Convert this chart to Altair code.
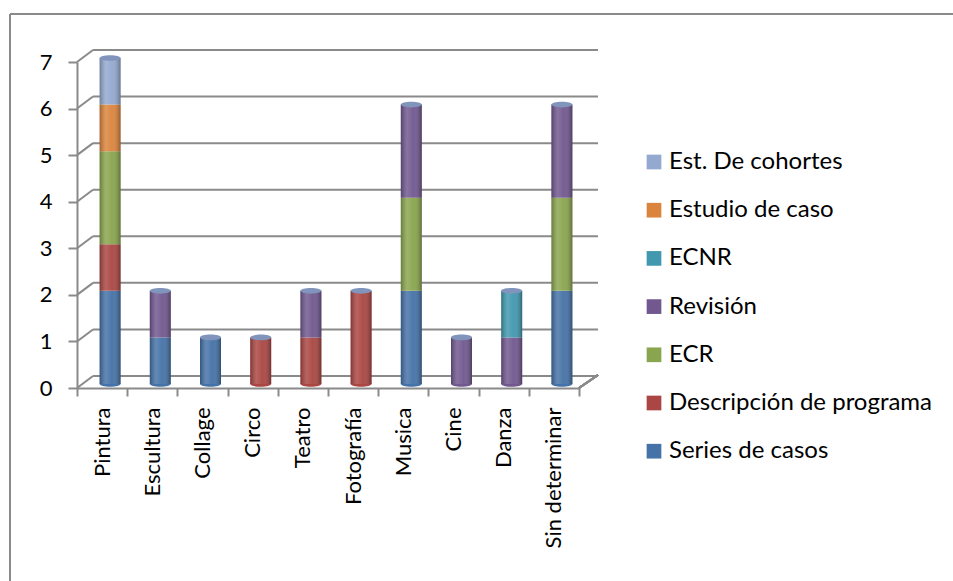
import altair as alt
import pandas as pd

# Categorías y número de estudios por tipo de diseño
categorias = ["Pintura", "Escultura", "Collage", "Circo", "Teatro",
              "Fotografía", "Musica", "Cine", "Danza", "Sin determinar"]

series_de_casos = [2, 1, 1, 0, 0, 0, 2, 0, 0, 2]
descripcion_programa = [1, 0, 0, 1, 1, 2, 0, 0, 0, 0]
ecr = [2, 0, 0, 0, 0, 0, 2, 0, 0, 2]
revision = [0, 1, 0, 0, 1, 0, 2, 1, 1, 2]
ecnr = [0, 0, 0, 0, 0, 0, 0, 0, 1, 0]
estudio_de_caso = [1, 0, 0, 0, 0, 0, 0, 0, 0, 0]
est_cohortes = [1, 0, 0, 0, 0, 0, 0, 0, 0, 0]

# Orden de apilado (de abajo hacia arriba)
series = [
    ("Series de casos", series_de_casos, "#4572A7"),
    ("Descripción de programa", descripcion_programa, "#AA4643"),
    ("ECR", ecr, "#89A54E"),
    ("Revisión", revision, "#71588F"),
    ("ECNR", ecnr, "#4198AF"),
    ("Estudio de caso", estudio_de_caso, "#DB843D"),
    ("Est. De cohortes", est_cohortes, "#93A9CF"),
]

filas = []
for orden, (nombre, valores, _) in enumerate(series):
    for cat, v in zip(categorias, valores):
        if v > 0:
            filas.append({"categoria": cat, "serie": nombre, "valor": v, "orden": orden})
df = pd.DataFrame(filas)

totales = []
for i, cat in enumerate(categorias):
    total = sum(vals[i] for _, vals, _ in series)
    base = next(n for n, vals, _ in series if vals[i] > 0)
    totales.append({"categoria": cat, "total": total, "cero": 0, "serie": base})
df_tot = pd.DataFrame(totales)

df_grid = pd.DataFrame({"v": list(range(0, 8))})

# Leyenda: de arriba hacia abajo, orden inverso al apilado
dominio = [n for n, _, _ in series][::-1]
colores = [c for _, _, c in series][::-1]

W, H = 502, 326
DX, DY = 16, -12          # profundidad del fondo
BX, BY = 8, -4            # desplazamiento de los cilindros
GRIS = "#8A8A8A"
FUENTE = "Lato"

x_enc = alt.X("categoria:N", sort=categorias,
              scale=alt.Scale(paddingInner=0, paddingOuter=0),
              axis=alt.Axis(title=None, tickBand="extent", labelAngle=270,
                            labelAlign="right", labelBaseline="middle",
                            tickSize=8, labelPadding=11))
y_scale = alt.Scale(domain=[0, 7], nice=False)

ellipse = "M -1 0 A 1 0.27 0 1 1 1 0 A 1 0.27 0 1 1 -1 0 Z"

leyenda = alt.Legend(title=None, orient="none", legendX=565, legendY=88,
                     symbolType="square", symbolSize=216,
                     symbolStrokeWidth=0, rowPadding=24.2,
                     labelFontSize=24, labelFont=FUENTE,
                     labelColor="#000000", labelOffset=3,
                     padding=0, labelLimit=400)
color_scale = alt.Scale(domain=dominio, range=colores)

# Pared del fondo: líneas de cuadrícula desplazadas
grid = alt.Chart(df_grid).mark_rule(color=GRIS, strokeWidth=2, yOffset=DY).encode(
    y=alt.Y("v:Q", scale=y_scale,
            axis=alt.Axis(title=None, values=list(range(8)), tickSize=9,
                          labelPadding=16, grid=False)),
    x=alt.value(DX), x2=alt.value(W + 19),
)
diag = alt.Chart(df_grid).mark_rule(color=GRIS, strokeWidth=2, y2Offset=DY).encode(
    y=alt.Y("v:Q", scale=y_scale), y2="v:Q",
    x=alt.value(0), x2=alt.value(DX),
)
suelo_der = alt.Chart(df_grid).mark_rule(color=GRIS, strokeWidth=2).encode(
    x=alt.value(W), x2=alt.value(W + 19), y=alt.value(H), y2=alt.value(H - 13),
)

base_cil = alt.Chart(df_tot).mark_point(
    shape=ellipse, size=441, filled=True, opacity=1, strokeWidth=0,
    xOffset=BX, yOffset=BY,
).encode(
    x=x_enc, y=alt.Y("cero:Q", scale=y_scale),
    color=alt.Color("serie:N", scale=color_scale, legend=leyenda),
)

barras = alt.Chart(df).mark_bar(size=21, xOffset=BX, yOffset=BY, y2Offset=BY).encode(
    x=x_enc,
    y=alt.Y("valor:Q", stack="zero", scale=y_scale),
    color=alt.Color("serie:N", scale=color_scale, legend=leyenda),
    order=alt.Order("orden:Q", sort="ascending"),
)

sombra = alt.Chart(df_tot).mark_bar(
    size=21, xOffset=BX, yOffset=BY, y2Offset=BY,
    color=alt.LinearGradient(
        gradient="linear", x1=0, x2=1, y1=0, y2=0,
        stops=[
            alt.GradientStop(color="rgba(0,0,0,0.25)", offset=0),
            alt.GradientStop(color="rgba(255,255,255,0.16)", offset=0.3),
            alt.GradientStop(color="rgba(255,255,255,0.04)", offset=0.6),
            alt.GradientStop(color="rgba(0,0,0,0.32)", offset=1),
        ],
    ),
).encode(x=x_enc, y=alt.Y("total:Q", scale=y_scale), y2="cero:Q")

tapa = alt.Chart(df_tot).mark_point(
    shape=ellipse, size=441, filled=True, opacity=1, color="#8195BC",
    strokeWidth=0, xOffset=BX, yOffset=BY,
).encode(x=x_enc, y=alt.Y("total:Q", scale=y_scale))

# Marco exterior del gráfico
marco_izq = alt.Chart(df_grid).mark_rule(color=GRIS, strokeWidth=2).encode(
    x=alt.value(-67), y=alt.value(-48), y2=alt.value(H + 200))
marco_sup = alt.Chart(df_grid).mark_rule(color=GRIS, strokeWidth=2).encode(
    y=alt.value(-48), x=alt.value(-67), x2=alt.value(W + 400))

chart = alt.layer(
    marco_izq, marco_sup, grid, diag, suelo_der, base_cil, barras, sombra, tapa
).resolve_scale(color="shared").properties(
    width=W, height=H,
    background="white",
    padding={"left": 77, "top": 62, "right": 374, "bottom": 193},
    autosize=alt.AutoSizeParams(type="none"),
).configure_view(stroke=None).configure_axis(
    domainColor=GRIS, domainWidth=2, tickColor=GRIS, tickWidth=2,
    labelFont=FUENTE, labelFontSize=22, labelColor="#000000",
)

chart.save("out.html", embed_options={"renderer": "svg", "actions": False})
